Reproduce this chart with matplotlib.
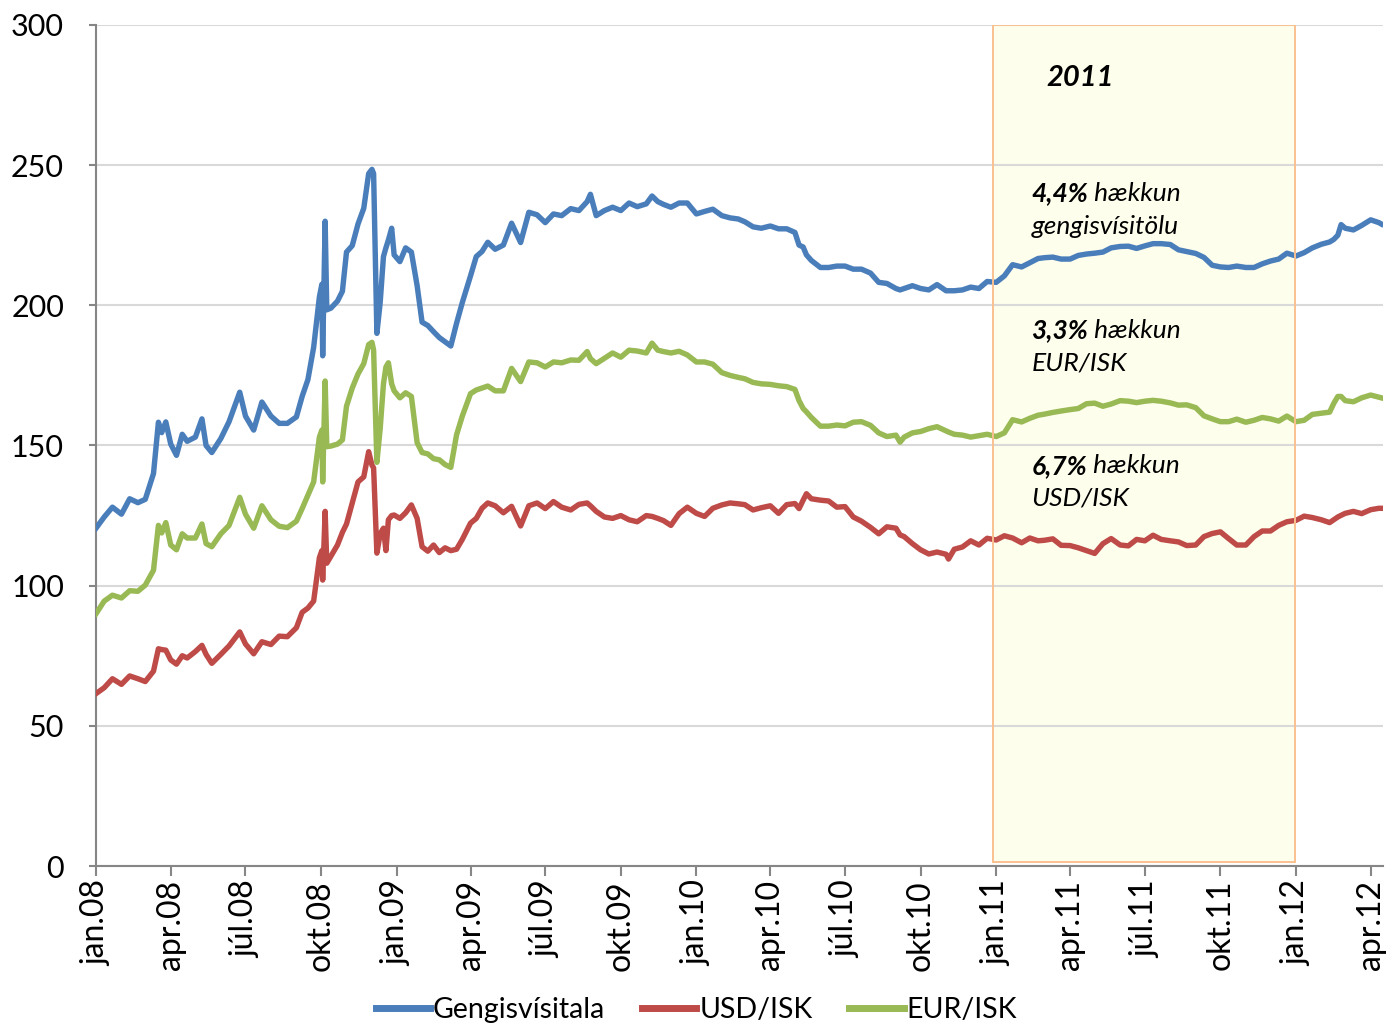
import matplotlib
matplotlib.use('Agg')
import matplotlib.pyplot as plt
import matplotlib.dates as mdates
from matplotlib.patches import Rectangle
import pandas as pd

plt.rcParams['font.family'] = ['Lato', 'DejaVu Sans']

# values (about every 10 days, more often around the spikes)
dates = [
    '2008-01-01', '2008-01-11', '2008-01-21', '2008-02-01', '2008-02-11', '2008-02-21',
    '2008-03-01', '2008-03-11', '2008-03-17', '2008-03-21', '2008-03-26', '2008-04-01',
    '2008-04-08', '2008-04-15', '2008-04-21', '2008-05-01', '2008-05-09', '2008-05-14',
    '2008-05-21', '2008-06-01', '2008-06-11', '2008-06-24', '2008-07-01', '2008-07-11',
    '2008-07-21', '2008-08-01', '2008-08-11', '2008-08-21', '2008-09-01', '2008-09-08',
    '2008-09-15', '2008-09-22', '2008-09-29', '2008-10-02', '2008-10-03', '2008-10-06',
    '2008-10-08', '2008-10-13', '2008-10-21', '2008-10-27', '2008-11-01', '2008-11-08',
    '2008-11-15', '2008-11-22', '2008-11-28', '2008-12-02', '2008-12-04', '2008-12-08',
    '2008-12-12', '2008-12-16', '2008-12-19', '2008-12-22', '2008-12-26', '2008-12-29',
    '2009-01-05', '2009-01-12', '2009-01-19', '2009-01-26', '2009-02-01', '2009-02-08',
    '2009-02-15', '2009-02-22', '2009-03-01', '2009-03-08', '2009-03-15', '2009-03-22',
    '2009-04-01', '2009-04-08', '2009-04-15', '2009-04-22', '2009-05-01', '2009-05-11',
    '2009-05-21', '2009-06-01', '2009-06-11', '2009-06-21', '2009-07-01', '2009-07-11',
    '2009-07-21', '2009-08-01', '2009-08-11', '2009-08-21', '2009-08-25', '2009-09-01',
    '2009-09-11', '2009-09-21', '2009-10-01', '2009-10-11', '2009-10-21', '2009-11-01',
    '2009-11-08', '2009-11-15', '2009-11-22', '2009-12-01', '2009-12-11', '2009-12-21',
    '2010-01-01', '2010-01-11', '2010-01-21', '2010-02-01', '2010-02-11', '2010-02-21',
    '2010-03-01', '2010-03-11', '2010-03-21', '2010-04-01', '2010-04-11', '2010-04-21',
    '2010-05-01', '2010-05-06', '2010-05-11', '2010-05-15', '2010-05-21', '2010-06-01',
    '2010-06-11', '2010-06-21', '2010-07-01', '2010-07-11', '2010-07-21', '2010-08-01',
    '2010-08-11', '2010-08-21', '2010-09-01', '2010-09-06', '2010-09-11', '2010-09-21',
    '2010-10-01', '2010-10-11', '2010-10-21', '2010-11-01', '2010-11-04', '2010-11-11',
    '2010-11-21', '2010-12-01', '2010-12-11', '2010-12-21', '2011-01-01', '2011-01-11',
    '2011-01-21', '2011-02-01', '2011-02-11', '2011-02-21', '2011-03-01', '2011-03-11',
    '2011-03-21', '2011-04-01', '2011-04-11', '2011-04-21', '2011-05-01', '2011-05-11',
    '2011-05-21', '2011-06-01', '2011-06-11', '2011-06-21', '2011-07-01', '2011-07-11',
    '2011-07-21', '2011-08-01', '2011-08-11', '2011-08-21', '2011-09-01', '2011-09-11',
    '2011-09-21', '2011-10-01', '2011-10-11', '2011-10-21', '2011-11-01', '2011-11-11',
    '2011-11-21', '2011-12-01', '2011-12-11', '2011-12-21', '2012-01-01', '2012-01-11',
    '2012-01-21', '2012-02-01', '2012-02-11', '2012-02-16', '2012-02-21', '2012-02-25',
    '2012-03-01', '2012-03-11', '2012-03-21', '2012-04-01', '2012-04-11', '2012-04-14',
]

gengisvisitala = [
    120.5, 124.5, 128.0, 125.5, 131.0, 129.6, 130.8, 140.0, 158.3, 154.6, 158.4, 150.5,
    146.5, 154.0, 151.5, 153.0, 159.5, 150.0, 147.5, 152.5, 158.5, 169.0, 160.5, 155.5,
    165.5, 160.5, 157.9, 157.9, 160.2, 167.5, 173.5, 185.0, 203.0, 207.5, 182.0, 230.0,
    198.4, 199.0, 201.5, 205.0, 219.0, 221.3, 229.0, 234.6, 247.0, 248.5, 247.0, 190.0,
    201.0, 217.4, 220.5, 223.3, 227.5, 218.0, 215.6, 220.5, 219.0, 207.0, 194.0, 192.8,
    190.6, 188.5, 187.0, 185.5, 193.6, 201.0, 210.5, 217.4, 219.2, 222.5, 220.0, 221.5,
    229.3, 222.4, 233.2, 232.3, 229.5, 232.6, 232.0, 234.5, 233.8, 237.0, 239.6, 232.0,
    233.8, 235.0, 233.8, 236.5, 235.2, 236.2, 239.0, 237.0, 236.0, 235.0, 236.5, 236.5,
    232.6, 233.5, 234.3, 232.0, 231.2, 230.8, 229.8, 228.0, 227.5, 228.3, 227.3, 227.3,
    226.0, 221.5, 220.8, 218.0, 216.0, 213.5, 213.5, 214.0, 214.0, 212.9, 212.9, 211.5,
    208.2, 207.8, 206.0, 205.5, 206.0, 207.0, 206.0, 205.5, 207.4, 205.2, 205.2, 205.2,
    205.5, 206.5, 206.0, 208.5, 208.2, 210.5, 214.5, 213.7, 215.2, 216.7, 217.0, 217.2,
    216.5, 216.5, 217.8, 218.3, 218.6, 219.0, 220.5, 221.0, 221.1, 220.3, 221.2, 222.0,
    222.0, 221.7, 219.8, 219.2, 218.5, 217.1, 214.3, 213.7, 213.5, 214.0, 213.5, 213.5,
    214.8, 215.8, 216.5, 218.6, 217.6, 218.8, 220.5, 221.8, 222.6, 223.5, 225.0, 228.8,
    227.5, 226.9, 228.5, 230.5, 229.5, 229.0,
]

usd_isk = [
    61.5, 63.6, 66.8, 64.8, 67.8, 66.8, 65.8, 69.5, 77.5, 77.2, 77.0, 73.5,
    72.0, 75.0, 74.2, 76.5, 78.7, 75.5, 72.3, 75.5, 78.5, 83.5, 79.2, 75.7,
    80.0, 79.0, 82.0, 81.8, 85.0, 90.5, 92.0, 94.5, 110.0, 112.5, 102.0, 126.5,
    108.0, 110.5, 114.5, 119.0, 122.0, 129.5, 137.0, 138.8, 147.8, 143.0, 142.0, 111.6,
    118.5, 120.5, 112.5, 123.5, 125.0, 125.2, 124.0, 126.0, 128.8, 124.0, 113.9, 112.3,
    114.5, 111.8, 113.5, 112.5, 113.0, 116.5, 122.3, 124.0, 127.6, 129.5, 128.5, 126.0,
    128.3, 121.3, 128.5, 129.5, 127.5, 130.0, 128.0, 127.0, 129.0, 129.5, 128.5, 126.5,
    124.5, 124.0, 125.0, 123.5, 122.8, 125.0, 124.7, 124.0, 123.2, 121.5, 125.7, 128.0,
    125.8, 124.7, 127.6, 128.8, 129.5, 129.2, 128.9, 127.0, 127.8, 128.5, 125.8, 128.9,
    129.3, 127.5, 130.5, 132.8, 131.0, 130.5, 130.2, 128.0, 128.2, 124.5, 123.0, 120.8,
    118.5, 121.0, 120.5, 118.1, 117.5, 115.0, 112.8, 111.3, 112.0, 111.2, 109.5, 113.0,
    113.8, 116.0, 114.5, 116.9, 116.3, 117.8, 117.0, 115.3, 117.0, 116.0, 116.2, 116.7,
    114.4, 114.3, 113.5, 112.5, 111.5, 115.0, 116.8, 114.5, 114.2, 116.5, 116.0, 118.0,
    116.5, 116.0, 115.6, 114.3, 114.5, 117.5, 118.6, 119.2, 116.8, 114.5, 114.5, 117.5,
    119.5, 119.5, 121.5, 122.8, 123.3, 124.8, 124.3, 123.5, 122.5, 123.5, 124.5, 125.1,
    125.8, 126.5, 125.7, 127.1, 127.6, 127.6,
]

eur_isk = [
    90.0, 94.5, 96.6, 95.6, 98.2, 98.0, 100.2, 105.5, 121.5, 118.8, 122.5, 114.5,
    112.8, 118.5, 117.0, 117.0, 122.0, 115.0, 113.9, 118.5, 121.5, 131.5, 125.5, 120.5,
    128.5, 123.5, 121.2, 120.7, 123.0, 127.5, 132.3, 137.0, 153.0, 155.5, 137.0, 173.0,
    149.6, 149.8, 150.5, 152.0, 164.0, 170.5, 175.5, 179.2, 186.0, 186.8, 184.0, 144.0,
    156.0, 172.0, 178.0, 179.5, 172.0, 169.5, 167.0, 168.8, 167.5, 151.0, 147.5, 147.0,
    145.3, 144.9, 143.2, 142.2, 153.8, 160.5, 168.5, 169.8, 170.5, 171.2, 169.5, 169.5,
    177.5, 172.8, 179.8, 179.5, 178.0, 179.8, 179.5, 180.5, 180.4, 183.5, 181.0, 179.2,
    181.1, 183.0, 181.5, 184.0, 183.7, 183.0, 186.5, 184.0, 183.5, 183.0, 183.6, 182.3,
    179.8, 179.8, 179.0, 176.0, 175.0, 174.3, 173.8, 172.5, 172.0, 171.8, 171.3, 171.0,
    170.0, 166.0, 163.2, 162.0, 160.0, 156.9, 156.9, 157.3, 157.0, 158.3, 158.5, 157.2,
    154.5, 153.2, 153.7, 151.2, 153.0, 154.5, 155.0, 156.0, 156.7, 155.2, 154.8, 154.0,
    153.7, 153.0, 153.5, 154.0, 153.2, 154.5, 159.2, 158.4, 159.7, 160.8, 161.2, 161.8,
    162.3, 162.8, 163.2, 164.9, 165.1, 164.0, 164.8, 166.0, 165.8, 165.3, 165.8, 166.1,
    165.8, 165.2, 164.4, 164.5, 163.5, 160.6, 159.5, 158.5, 158.5, 159.4, 158.3, 159.0,
    160.0, 159.5, 158.7, 160.5, 158.5, 159.0, 161.1, 161.5, 161.9, 165.0, 167.5, 167.5,
    166.0, 165.6, 167.0, 168.0, 167.2, 167.0,
]

tick_dates = ['2008-01-01', '2008-04-01', '2008-07-01', '2008-10-01',
              '2009-01-01', '2009-04-01', '2009-07-01', '2009-10-01',
              '2010-01-01', '2010-04-01', '2010-07-01', '2010-10-01',
              '2011-01-01', '2011-04-01', '2011-07-01', '2011-10-01',
              '2012-01-01', '2012-04-01']
tick_labels = ['jan.08', 'apr.08', 'júl.08', 'okt.08',
               'jan.09', 'apr.09', 'júl.09', 'okt.09',
               'jan.10', 'apr.10', 'júl.10', 'okt.10',
               'jan.11', 'apr.11', 'júl.11', 'okt.11',
               'jan.12', 'apr.12']

x = pd.to_datetime(dates)

fig = plt.figure(figsize=(13.93, 10.31), dpi=100)
ax = fig.add_axes([96 / 1393, 1 - 866 / 1031, (1383 - 96) / 1393, (866 - 25) / 1031])

# 2011 box
box_start = mdates.date2num(pd.Timestamp('2010-12-28'))
box_end = mdates.date2num(pd.Timestamp('2011-12-31'))
ax.add_patch(Rectangle((box_start, 1.5), box_end - box_start, 298.5,
                       facecolor='#FEFEEC', edgecolor='none', zorder=0.2))
ax.add_patch(Rectangle((box_start, 1.5), box_end - box_start, 298.5,
                       facecolor='none', edgecolor='#FAC090', lw=1.4, zorder=4))

lw = 3.9
ax.plot(x, gengisvisitala, color='#4A7EBB', lw=lw, label='Gengisvísitala',
        solid_joinstyle='round', zorder=3)
ax.plot(x, usd_isk, color='#BE4B48', lw=lw, label='USD/ISK',
        solid_joinstyle='round', zorder=3)
ax.plot(x, eur_isk, color='#98B954', lw=lw, label='EUR/ISK',
        solid_joinstyle='round', zorder=3)

ax.set_ylim(0, 300)
ax.set_yticks(range(0, 301, 50))
ax.set_xlim(pd.Timestamp('2008-01-01'), pd.Timestamp('2012-04-16'))
ax.set_xticks(pd.to_datetime(tick_dates))
ax.set_xticklabels(tick_labels, rotation=90)

ax.set_axisbelow(True)
ax.yaxis.grid(True, color='#D9D9D9', lw=1.5)
for side in ['top', 'right']:
    ax.spines[side].set_visible(False)
for side in ['left', 'bottom']:
    ax.spines[side].set_color('#868686')
    ax.spines[side].set_linewidth(1.5)
ax.tick_params(axis='y', direction='out', length=5, width=1.5, color='#868686',
               labelsize=22, pad=18)
ax.tick_params(axis='x', direction='out', length=7, width=1.5, color='#868686',
               labelsize=23, pad=3)

# annotations
t_year = mdates.date2num(pd.Timestamp('2011-03-03'))
ax.text(t_year, 281, '2011', fontsize=21, weight='bold', style='italic', va='center')

t_x = mdates.date2num(pd.Timestamp('2011-02-13'))
notes = [('4,4%', 'gengisvísitölu', 240, 228),
         ('3,3%', 'EUR/ISK', 191.2, 179.4),
         ('6,7%', 'USD/ISK', 142.7, 131.3)]
for pct, name, y1, y2 in notes:
    t = ax.text(t_x, y1, pct, fontsize=19, weight='bold', style='italic', va='center')
    ax.annotate(' hækkun', xy=(1, 0.5), xycoords=t, fontsize=19, style='italic',
                va='center', ha='left')
    ax.text(t_x, y2, name, fontsize=19, style='italic', va='center')

fig.legend(loc='lower center', bbox_to_anchor=(0.5, -0.017), ncol=3, frameon=False,
           fontsize=20.5, handlelength=1.9, handletextpad=0.1, columnspacing=1.3)
for line in fig.legends[0].get_lines():
    line.set_linewidth(5)

fig.savefig('out.png', dpi=100)
